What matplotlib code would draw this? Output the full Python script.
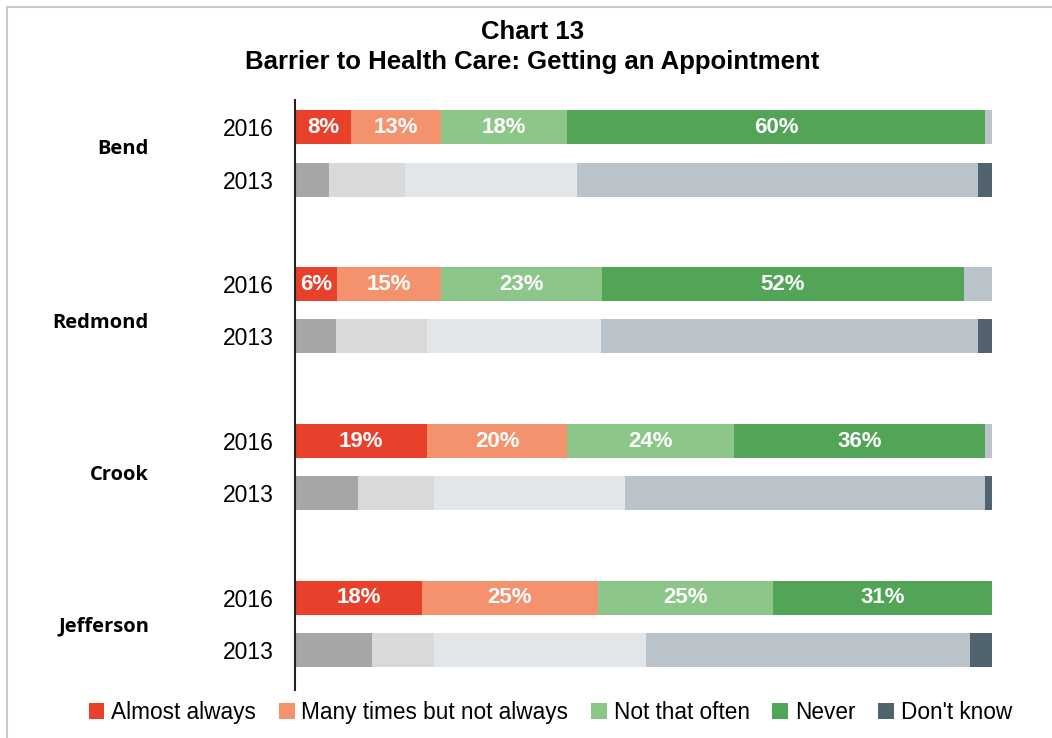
import matplotlib.pyplot as plt
from matplotlib.patches import Rectangle, Patch

plt.rcParams['font.family'] = ['Liberation Sans', 'DejaVu Sans']

counties = ['Bend', 'Redmond', 'Crook', 'Jefferson']
years = ['2016', '2013']
categories = ['Almost always', 'Many times but not always', 'Not that often', 'Never', "Don't know"]

# percent shares per county, one list per category
almost_2016 = [8, 6, 19, 18.2]
many_2016 = [13, 15, 20, 25.2]
notoften_2016 = [18, 23, 24, 25.2]
never_2016 = [60, 52, 36, 31.4]
dontknow_2016 = [1, 4, 1, 0]

almost_2013 = [4.9, 5.9, 9.0, 11.0]
many_2013 = [10.9, 13.0, 11.0, 9.0]
notoften_2013 = [24.7, 25.0, 27.3, 30.3]
never_2013 = [57.5, 54.1, 51.7, 46.6]
dontknow_2013 = [2.0, 2.0, 1.0, 3.1]

colors_2016 = ['#E8402A', '#F4926E', '#8CC689', '#52A456', '#BAC4CA']
colors_2013 = ['#A6A6A6', '#D9D9D9', '#E2E6E9', '#B9C3C9', '#51636E']
legend_colors = ['#E8402A', '#F4926E', '#8CC689', '#52A456', '#51636E']

rows_2016 = [almost_2016, many_2016, notoften_2016, never_2016, dontknow_2016]
rows_2013 = [almost_2013, many_2013, notoften_2013, never_2013, dontknow_2013]

fig = plt.figure(figsize=(10.52, 7.38), dpi=100)
ax = fig.add_axes([0.2804, 0.065, 0.6626, 0.7995])

bar_h = 0.65
ypos_2016 = [3 * i for i in range(len(counties))]
ypos_2013 = [3 * i + 1 for i in range(len(counties))]

left = [0.0] * len(counties)
for k, vals in enumerate(rows_2016):
    ax.barh(ypos_2016, vals, left=left, height=bar_h, color=colors_2016[k], edgecolor='none')
    if k < 4:
        for i, v in enumerate(vals):
            ax.text(left[i] + v / 2, ypos_2016[i], f'{v:.0f}%', ha='center', va='center',
                    color='white', fontsize=16, fontweight='bold')
    left = [l + v for l, v in zip(left, vals)]

left = [0.0] * len(counties)
for k, vals in enumerate(rows_2013):
    ax.barh(ypos_2013, vals, left=left, height=bar_h, color=colors_2013[k], edgecolor='none')
    left = [l + v for l, v in zip(left, vals)]

ax.set_xlim(0, 100)
ax.set_ylim(10.76, -0.52)
ax.set_xticks([])
ticks = []
labels = []
for a, b in zip(ypos_2016, ypos_2013):
    ticks += [a, b]
    labels += years
ax.set_yticks(ticks)
ax.set_yticklabels(labels, fontsize=16.5)
ax.tick_params(axis='y', length=0, pad=15)
for s in ['top', 'right', 'bottom']:
    ax.spines[s].set_visible(False)
ax.spines['left'].set_linewidth(1.5)
ax.spines['left'].set_color('#222222')

# county names sit left of the year labels
name_offsets = [0.42, 0.75, 0.65, 0.55]
for i, name in enumerate(counties):
    ax.annotate(name, xy=(149 / 1052, ypos_2016[i] + name_offsets[i]),
                xycoords=('figure fraction', 'data'), ha='right', va='center',
                fontsize=14.5, fontweight='bold', family='Open Sans')

fig.text(0.506, 0.957, 'Chart 13', ha='center', va='center', fontsize=18.5, fontweight='bold')
fig.text(0.506, 0.916, 'Barrier to Health Care: Getting an Appointment', ha='center', va='center',
         fontsize=18.5, fontweight='bold')

handles = [Patch(facecolor=c, edgecolor='none') for c in legend_colors]
fig.legend(handles, categories, loc='center', bbox_to_anchor=(0.523, 0.035), ncol=5, frameon=False,
           fontsize=16.3, handlelength=0.7, handleheight=0.7, handletextpad=0.3, columnspacing=1.0)

# thin frame around the chart area
fig.patches.append(Rectangle((7 / 1052, -0.01), 1.02, 1 - 7 / 738 + 0.01, transform=fig.transFigure,
                             fill=False, edgecolor='#C3CBD0', linewidth=1.5))

fig.savefig('out.png', dpi=100)
